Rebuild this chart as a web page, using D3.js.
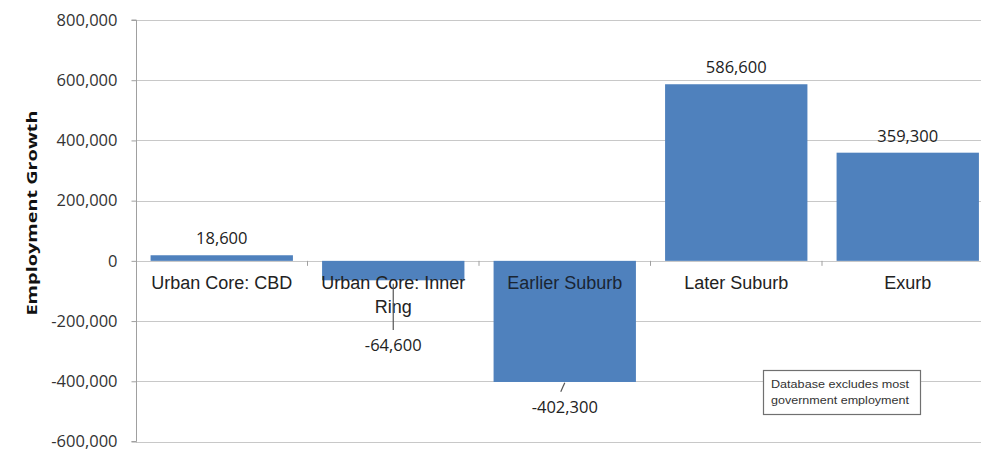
<!DOCTYPE html>
<html><head><meta charset="utf-8">
<script src="https://cdn.jsdelivr.net/npm/d3@7"></script>
<style>body{margin:0;background:#fff}svg{display:block}</style>
</head><body>
<svg id="c" width="981" height="451"></svg>
<script>
const categories = ["Urban Core: CBD", "Urban Core: Inner Ring", "Earlier Suburb", "Later Suburb", "Exurb"];
const values = [18600, -64600, -402300, 586600, 359300];
const valueLabels = ["18,600", "-64,600", "-402,300", "586,600", "359,300"];
const yTicks = [-600000, -400000, -200000, 0, 200000, 400000, 600000, 800000];
const yTitle = "Employment Growth";
const note = ["Database excludes most", "government employment"];

const svg = d3.select("#c");
const x0 = 136, x1 = 993.5, yTop = 20, yBot = 441.5;
const x = d3.scaleBand().domain(categories).range([x0, x1]).paddingInner(0.17).paddingOuter(0.085);
const y = d3.scaleLinear().domain([-600000, 800000]).range([yBot, yTop]);
const blue = "#4f81bd";
const fmt = d => d3.format(",")(d).replace("\u2212", "-");

// gridlines
svg.append("g").selectAll("line").data(yTicks).join("line")
  .attr("x1", x0).attr("x2", 981).attr("y1", d => Math.round(y(d)) + 0.5).attr("y2", d => Math.round(y(d)) + 0.5)
  .attr("stroke", "#c8c8c8").attr("stroke-width", 1.2);

// y axis
const yAxis = d3.axisLeft(y).tickValues(yTicks).tickSize(5).tickPadding(14).tickFormat(fmt);
const ga = svg.append("g").attr("transform", `translate(${x0 + 0.5},0)`).call(yAxis);
ga.select(".domain").attr("stroke", "#a0a0a0").attr("d", `M-5,${yTop}H0V${yBot}H-5`);
ga.selectAll(".tick line").attr("stroke", "#a0a0a0");
ga.selectAll(".tick text").attr("fill", "#333").style("font-family", "'Open Sans', sans-serif").style("font-size", "16.5px");

// bars
svg.append("g").selectAll("rect").data(categories).join("rect")
  .attr("x", d => x(d)).attr("width", x.bandwidth())
  .attr("y", (d, i) => y(Math.max(0, values[i])))
  .attr("height", (d, i) => Math.abs(y(values[i]) - y(0)))
  .attr("fill", blue);

// category ticks at zero line
const step = x.step();
const bounds = categories.map((d, i) => x(d) - (step - x.bandwidth()) / 2).slice(1);
svg.append("g").selectAll("line").data(bounds).join("line")
  .attr("x1", d => d).attr("x2", d => d).attr("y1", y(0)).attr("y2", y(0) + 5)
  .attr("stroke", "#a0a0a0");

// category labels
const catFont = "'Liberation Sans', Arial, sans-serif";
const lines = [["Urban Core: CBD"], ["Urban Core: Inner", "Ring"], ["Earlier Suburb"], ["Later Suburb"], ["Exurb"]];
const cl = svg.append("g");
categories.forEach((c, i) => {
  const t = cl.append("text").attr("x", x(c) + x.bandwidth() / 2).attr("y", y(0) + 28)
    .attr("text-anchor", "middle").attr("fill", i === 2 ? "#1a2533" : "#222")
    .style("font-family", catFont).style("font-size", "18px");
  lines[i].forEach((l, j) => t.append("tspan").attr("x", x(c) + x.bandwidth() / 2).attr("dy", j ? 24 : 0).text(l));
});

// leader lines
const cx1 = x(categories[1]) + x.bandwidth() / 2;
svg.append("line").attr("x1", cx1).attr("x2", cx1).attr("y1", y(0) + 23).attr("y2", y(-230000))
  .attr("stroke", "#555").attr("stroke-width", 1.2);
const cx2 = x(categories[2]) + x.bandwidth() / 2;
svg.append("line").attr("x1", cx2).attr("x2", cx2 - 4).attr("y1", y(-405000)).attr("y2", y(-435000))
  .attr("stroke", "#555").attr("stroke-width", 1.2);

// value labels
svg.append("g").selectAll("text").data(categories).join("text")
  .attr("x", d => x(d) + x.bandwidth() / 2)
  .attr("y", (d, i) => {
    if (i === 1) return y(-299400);
    if (i === 2) return y(-505300);
    return y(values[i]) - 11;
  })
  .attr("text-anchor", "middle").attr("fill", "#222")
  .style("font-family", "'Open Sans', sans-serif").style("font-size", "16.5px")
  .text((d, i) => valueLabels[i]);

// y title
svg.append("text").attr("transform", `translate(37,213) rotate(-90)`)
  .attr("text-anchor", "middle").attr("fill", "#111")
  .attr("textLength", 205).attr("lengthAdjust", "spacingAndGlyphs")
  .style("font-family", "'Open Sans', sans-serif").style("font-size", "15px").style("font-weight", "bold")
  .text(yTitle);

// note box
const nb = svg.append("g");
nb.append("rect").attr("x", 763.5).attr("y", 370.5).attr("width", 157).attr("height", 44)
  .attr("fill", "#fff").attr("stroke", "#707070").attr("stroke-width", 1.2);
note.forEach((t, i) => nb.append("text").attr("x", 771).attr("y", 388 + i * 16)
  .attr("fill", "#333").attr("textLength", 138).attr("lengthAdjust", "spacingAndGlyphs")
  .style("font-family", "'Liberation Sans', Arial, sans-serif").style("font-size", "11.5px").text(t));
</script>
</body></html>
